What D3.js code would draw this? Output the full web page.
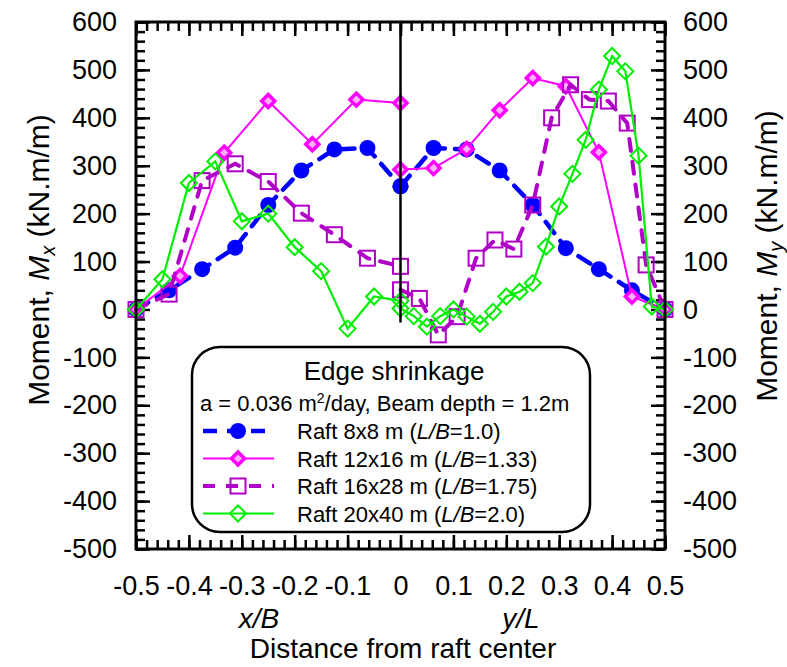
<!DOCTYPE html>
<html>
<head>
<meta charset="utf-8">
<script src="https://cdn.jsdelivr.net/npm/d3@7"></script>
<style>
body{margin:0;background:#fff;}
text{font-family:Arial,"Liberation Sans",sans-serif;fill:#000;}
</style>
</head>
<body>
<div id="chart"></div>
<script>
var w=787
var h=667
var plotLeft=136
var plotRight=665
var plotTop=22
var plotBottom=549

// tick values
var xTicks=[-0.5,-0.4,-0.3,-0.2,-0.1,0,0.1,0.2,0.3,0.4,0.5]
var yTicks=[-500,-400,-300,-200,-100,0,100,200,300,400,500,600]

// Raft 8x8 m (L/B=1.0)
var xB8=[-0.5,-0.4375,-0.375,-0.3125,-0.25,-0.1875,-0.125,-0.0625,0]
var mx8=[0,40,84,129,218,290,334,337,257]
var yL8=[0,0.0625,0.125,0.1875,0.25,0.3125,0.375,0.4375,0.5]
var my8=[257,337,334,290,218,128,84,40,0]

// Raft 12x16 m (L/B=1.33)
var xB12=[-0.5,-0.4167,-0.3333,-0.25,-0.1667,-0.0833,0]
var mx12=[0,70,327,435,345,438,431]
var yL16=[0,0.0625,0.125,0.1875,0.25,0.3125,0.375,0.4375,0.5]
var my16=[292,295,335,416,483,466,328,27,0]

// Raft 16x28 m (L/B=1.75)
var xB16=[-0.5,-0.4375,-0.375,-0.3125,-0.25,-0.1875,-0.125,-0.0625,0]
var mx16=[0,32,269,304,267,201,156,107,90]
var yL28=[0,0.0357,0.0714,0.1071,0.1429,0.1786,0.2143,0.25,0.2857,0.3214,0.3571,0.3929,0.4286,0.4643,0.5]
var my28=[41,23,-53,-15,107,145,126,218,400,469,438,435,389,93,0]

// Raft 20x40 m (L/B=2.0)
var xB20=[-0.5,-0.45,-0.4,-0.35,-0.3,-0.25,-0.2,-0.15,-0.1,-0.05,0]
var mx20=[0,63,264,309,184,200,130,80,-40,27,18]
var yL40=[0,0.025,0.05,0.075,0.1,0.125,0.15,0.175,0.2,0.225,0.25,0.275,0.3,0.325,0.35,0.375,0.4,0.425,0.45,0.475,0.5]
var my40=[2,-14,-36,-14,0,-15,-30,-5,27,37,55,131,215,283,354,459,529,497,321,6,0]

var series=[
  {name:"Raft 8x8 m (",lb:"=1.0)",color:"#0000ff",dash:"14,10",width:4.5,marker:"circle",
   parts:[[xB8,mx8],[yL8,my8]]},
  {name:"Raft 12x16 m (",lb:"=1.33)",color:"#ff00ff",dash:null,width:2,marker:"diamondFilled",
   parts:[[xB12,mx12],[yL16,my16]]},
  {name:"Raft 16x28 m (",lb:"=1.75)",color:"#b000c8",dash:"12,11",width:4,marker:"square",
   parts:[[xB16,mx16],[yL28,my28]]},
  {name:"Raft 20x40 m (",lb:"=2.0)",color:"#00ee00",dash:null,width:2.2,marker:"diamond",
   parts:[[xB20,mx20],[yL40,my40]]}
]

var svg=d3.select("#chart")
          .append("svg")
          .attr("width",w)
          .attr("height",h)

var xScale=d3.scaleLinear()
             .domain([-0.5,0.5])
             .range([plotLeft,plotRight])
var yScale=d3.scaleLinear()
             .domain([-500,600])
             .range([plotBottom,plotTop])

var xMinor=d3.range(-50,51,2).map(function(d){return d/100})
var yMinor=d3.range(-500,601,20)

var fmt=function(d){return String(d)}

//Minor ticks (inward)
function minorAxis(axis,vals,tr){
  svg.append("g")
     .attr("transform",tr)
     .call(axis.tickValues(vals).tickSize(-9).tickFormat(""))
     .call(function(g){g.select(".domain").remove()})
     .selectAll("line").attr("stroke-width",2.5)
}
minorAxis(d3.axisBottom(xScale),xMinor,"translate(0,"+plotBottom+")")
minorAxis(d3.axisTop(xScale),xMinor,"translate(0,"+plotTop+")")
minorAxis(d3.axisLeft(yScale),yMinor,"translate("+plotLeft+",0)")
minorAxis(d3.axisRight(yScale),yMinor,"translate("+plotRight+",0)")

//Major ticks with labels
var xAxisB=d3.axisBottom(xScale).tickValues(xTicks).tickSize(-14).tickPadding(27).tickFormat(fmt)
var xAxisT=d3.axisTop(xScale).tickValues(xTicks).tickSize(-14).tickFormat("")
var yAxisL=d3.axisLeft(yScale).tickValues(yTicks).tickSize(-14).tickPadding(19).tickFormat(fmt)
var yAxisR=d3.axisRight(yScale).tickValues(yTicks).tickSize(-14).tickPadding(18).tickFormat(fmt)

function majorAxis(axis,tr){
  var g=svg.append("g")
     .attr("class","axis")
     .attr("transform",tr)
     .call(axis)
  g.select(".domain").remove()
  g.selectAll("line").attr("stroke-width",2.5)
  g.selectAll("text")
   .style("font-family","Arial, 'Liberation Sans', sans-serif")
   .attr("font-size",27)
   .attr("fill","#000")
}
majorAxis(xAxisB,"translate(0,"+plotBottom+")")
majorAxis(xAxisT,"translate(0,"+plotTop+")")
majorAxis(yAxisL,"translate("+plotLeft+",0)")
majorAxis(yAxisR,"translate("+plotRight+",0)")

//Marker drawing
function drawMarker(g,type,color,x,y){
  if(type=="circle"){
    g.append("circle").attr("cx",x).attr("cy",y).attr("r",8).attr("fill",color)
  } else if(type=="square"){
    g.append("rect").attr("x",x-7.5).attr("y",y-7.5).attr("width",15).attr("height",15)
     .attr("fill","none").attr("stroke",color).attr("stroke-width",2)
  } else if(type=="diamondFilled"){
    var s=6.5
    g.append("path").attr("d","M"+x+","+(y-s)+"L"+(x+s)+","+y+"L"+x+","+(y+s)+"L"+(x-s)+","+y+"Z")
     .attr("fill","#ffb0ff").attr("stroke",color).attr("stroke-width",3.5)
  } else {
    var s2=8
    g.append("path").attr("d","M"+x+","+(y-s2)+"L"+(x+s2)+","+y+"L"+x+","+(y+s2)+"L"+(x-s2)+","+y+"Z")
     .attr("fill","none").attr("stroke",color).attr("stroke-width",2)
  }
}

var line=d3.line()
           .x(function(d){return xScale(d[0])})
           .y(function(d){return yScale(d[1])})

//Draw series
series.forEach(function(s){
  var g=svg.append("g").attr("class","series")
  s.parts.forEach(function(p){
    var pts=p[0].map(function(x,i){return [x,p[1][i]]})
    g.append("path")
     .datum(pts)
     .attr("d",line)
     .attr("fill","none")
     .attr("stroke",s.color)
     .attr("stroke-width",s.width)
     .attr("stroke-dasharray",s.dash)
     .attr("stroke-linecap",s.dash?"round":"butt")
  })
  s.parts.forEach(function(p){
    p[0].forEach(function(x,i){
      drawMarker(g,s.marker,s.color,xScale(x),yScale(p[1][i]))
    })
  })
})

//Center line
svg.append("line")
   .attr("x1",xScale(0)).attr("x2",xScale(0))
   .attr("y1",yScale(600)).attr("y2",yScale(-27))
   .attr("stroke","#000").attr("stroke-width",2.5)

//Frame
svg.append("rect")
   .attr("x",plotLeft).attr("y",plotTop)
   .attr("width",plotRight-plotLeft).attr("height",plotBottom-plotTop)
   .attr("fill","none").attr("stroke","#000").attr("stroke-width",3)

//Legend
var legend=svg.append("g").attr("class","legend")
legend.append("rect")
      .attr("x",192).attr("y",347).attr("width",398).attr("height",185)
      .attr("rx",28).attr("ry",28)
      .attr("fill","#fff").attr("stroke","#000").attr("stroke-width",2.5)
legend.append("text")
      .attr("x",394).attr("y",380)
      .attr("text-anchor","middle")
      .attr("font-size",26)
      .text("Edge shrinkage")
var aLine=legend.append("text").attr("x",200).attr("y",411).attr("font-size",22)
aLine.append("tspan").text("a = 0.036 m")
aLine.append("tspan").attr("font-size",14).attr("dy",-8).text("2")
aLine.append("tspan").attr("dy",8).text("/day, Beam depth = 1.2m")

series.forEach(function(s,i){
  var cy=431+i*27.5
  var g=legend.append("g")
  g.append("line")
   .attr("x1",203).attr("x2",274).attr("y1",cy).attr("y2",cy)
   .attr("stroke",s.color).attr("stroke-width",s.width)
   .attr("stroke-dasharray",s.dash)
  drawMarker(g,s.marker,s.color,238,cy)
  var t=g.append("text").attr("x",297).attr("y",cy+8).attr("font-size",22)
  t.append("tspan").text(s.name)
  t.append("tspan").attr("font-style","italic").text("L/B")
  t.append("tspan").text(s.lb)
})

//Axis titles
var leftTitle=svg.append("text")
   .attr("transform","translate(49,260) rotate(-90)")
   .attr("text-anchor","middle")
   .attr("font-size",30)
leftTitle.append("tspan").text("Moment, ")
leftTitle.append("tspan").attr("font-style","italic").text("M")
leftTitle.append("tspan").attr("font-style","italic").attr("font-size",20).attr("dy",6).text("x")
leftTitle.append("tspan").attr("dy",-6).text(" (kN.m/m)")

var rightTitle=svg.append("text")
   .attr("transform","translate(777,256) rotate(-90)")
   .attr("text-anchor","middle")
   .attr("font-size",30)
rightTitle.append("tspan").text("Moment, ")
rightTitle.append("tspan").attr("font-style","italic").text("M")
rightTitle.append("tspan").attr("font-style","italic").attr("font-size",20).attr("dy",6).text("y")
rightTitle.append("tspan").attr("dy",-6).text(" (kN.m/m)")

svg.append("text").attr("x",259).attr("y",628).attr("text-anchor","middle")
   .attr("font-size",28).attr("font-style","italic").text("x/B")
svg.append("text").attr("x",521).attr("y",628).attr("text-anchor","middle")
   .attr("font-size",28).attr("font-style","italic").text("y/L")
svg.append("text").attr("x",403).attr("y",658).attr("text-anchor","middle")
   .attr("font-size",28).text("Distance from raft center")
</script>
</body>
</html>
